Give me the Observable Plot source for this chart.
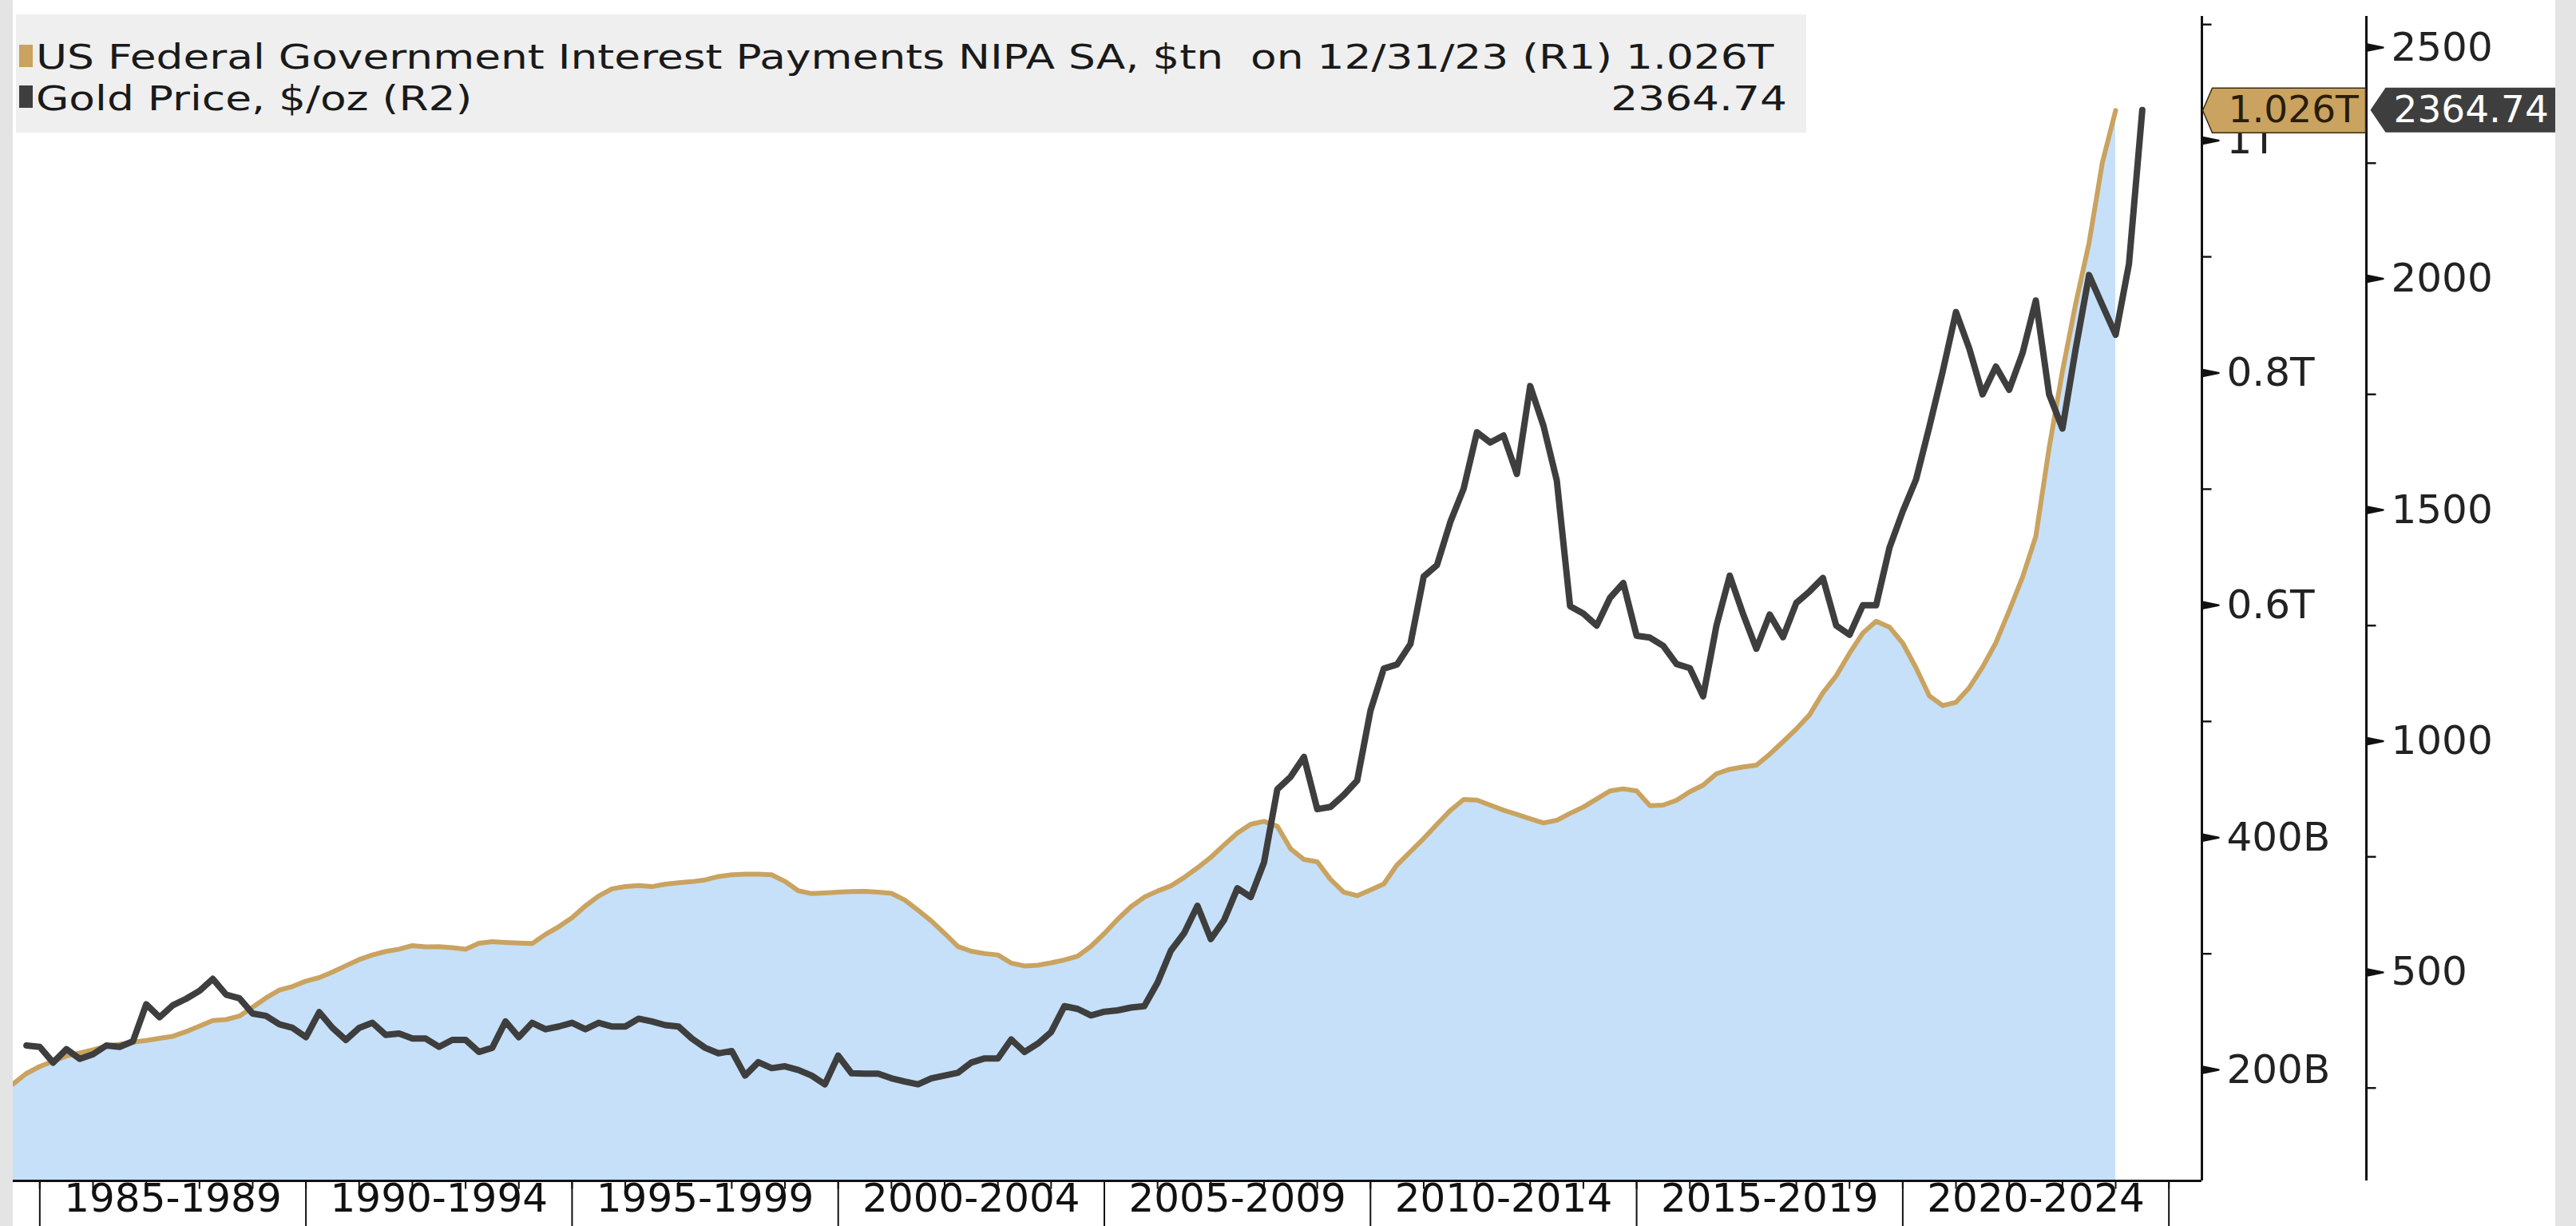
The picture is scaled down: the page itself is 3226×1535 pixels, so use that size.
<!DOCTYPE html>
<html>
<head>
<meta charset="utf-8">
<script src="https://cdn.jsdelivr.net/npm/d3@7"></script>
<script src="https://cdn.jsdelivr.net/npm/@observablehq/plot@0.6"></script>
<style>
  html, body { margin: 0; padding: 0; background: #ffffff; width: 3226px; height: 1535px; overflow: hidden; }
  #wrap { position: relative; width: 3226px; height: 1535px; }
  #chart svg { display: block; }
  .strip { position: absolute; top: 0; height: 1535px; background: #e4e4e4; }
  #overlay { position: absolute; left: 0; top: 0; }
</style>
</head>
<body>
<div id="wrap">
  <div id="chart"></div>
  <svg id="overlay" width="3226" height="1535"></svg>
  <div class="strip" style="left:0;width:16px;"></div>
  <div class="strip" style="left:3200px;width:26px;"></div>
</div>
<script>
// ---------------- DATA ----------------
// US Federal Government Interest Payments NIPA SA, $tn (quarterly, 1984 Q2 .. 2023 Q4)
const interestStart = 1984.5;
const interestTn = [
  0.188, 0.197, 0.203, 0.2075, 0.212, 0.2146, 0.2173, 0.2205, 0.2221, 0.224,
  0.2254, 0.2272, 0.229, 0.233, 0.2377, 0.2426, 0.2434, 0.2464, 0.254, 0.262,
  0.2687, 0.2719, 0.2765, 0.2795, 0.2843, 0.2897, 0.295, 0.299, 0.302, 0.304,
  0.307, 0.306, 0.3061, 0.3053, 0.3039, 0.3091, 0.3105, 0.3098, 0.3092, 0.3088,
  0.3167, 0.3233, 0.331, 0.3412, 0.3497, 0.3559, 0.3579, 0.3588, 0.3578, 0.3599,
  0.3612, 0.3621, 0.3636, 0.3665, 0.368, 0.3685, 0.3685, 0.368, 0.3623, 0.3543,
  0.3518, 0.3523, 0.353, 0.3535, 0.3537, 0.353, 0.352, 0.3463, 0.3375, 0.3282,
  0.3175, 0.3062, 0.3022, 0.3002, 0.299, 0.292, 0.2895, 0.2902, 0.2922, 0.2947,
  0.298, 0.3065, 0.3175, 0.3297, 0.3405, 0.3487, 0.354, 0.3585, 0.3657, 0.374,
  0.383, 0.3937, 0.404, 0.4115, 0.414, 0.4097, 0.3903, 0.3812, 0.3792, 0.364,
  0.353, 0.350, 0.3549, 0.3601, 0.3766, 0.3879, 0.3993, 0.4115, 0.4234, 0.4328,
  0.4323, 0.428, 0.4236, 0.42, 0.4163, 0.4126, 0.4149, 0.4209, 0.4264, 0.4333,
  0.4402, 0.442, 0.4402, 0.4275, 0.428, 0.4321, 0.4395, 0.4452, 0.455, 0.4588,
  0.4608, 0.4624, 0.4718, 0.4825, 0.4935, 0.5058, 0.5247, 0.5393, 0.5587, 0.5761,
  0.5863, 0.5812, 0.5674, 0.5461, 0.522, 0.5137, 0.5165, 0.5291, 0.5469, 0.5678,
  0.5954, 0.6242, 0.6594, 0.7356, 0.8015, 0.8599, 0.912, 0.9811, 1.026
];
// Gold Price, $/oz (quarterly, 1984 Q3 .. 2024 Q2)
const goldStart = 1984.75;
const goldUsd = [
  342, 339, 305, 334, 313, 323, 342, 339, 351, 431,
  403, 429, 443, 460, 486, 452, 444, 411, 406, 388,
  380, 360, 414, 380, 354, 380, 391, 365, 368, 357,
  357, 339, 354, 354, 328, 337, 394, 360, 391, 377,
  383, 391, 377, 391, 383, 383, 400, 394, 386, 383,
  357, 337, 325, 330, 277, 306, 293, 297, 289, 277,
  258, 320, 282, 281, 281, 271, 264, 258, 271, 277,
  283, 305, 314, 314, 355, 328, 346, 371, 427, 421,
  407, 415, 418, 424, 427, 478, 547, 585, 644, 572,
  613, 682, 663, 738, 896, 923, 966, 853, 858, 884,
  915, 1066, 1157, 1166, 1210, 1356, 1381, 1474, 1546, 1668,
  1646, 1661, 1578, 1768, 1682, 1564, 1292, 1276, 1250, 1310,
  1342, 1228, 1224, 1206, 1167, 1158, 1097, 1250, 1358, 1275,
  1200, 1274, 1225, 1299, 1324, 1353, 1250, 1230, 1294, 1294,
  1418, 1497, 1566, 1680, 1799, 1928, 1849, 1750, 1810, 1760,
  1839, 1953, 1750, 1676, 1849, 2008, 1943, 1879, 2032, 2364.74
];
// x axis categories
const periodStarts = [1985, 1990, 1995, 2000, 2005, 2010, 2015, 2020];
const periodLabels = ["1985-1989", "1990-1994", "1995-1999", "2000-2004", "2005-2009", "2010-2014", "2015-2019", "2020-2024"];
const yearTicks = d3.range(1985, 2026);
const separators = [1985, 1990, 1995, 2000, 2005, 2010, 2015, 2020, 2025];
// y axes
const r1Major = [0.2, 0.4, 0.6, 0.8, 1.0];
const r1MajorLabels = ["200B", "400B", "0.6T", "0.8T", "1T"];
const r1Minor = [0.3, 0.5, 0.7, 0.9, 1.1];
const r2Major = [500, 1000, 1500, 2000, 2500];
const r2Minor = [250, 750, 1250, 1750, 2250];
// scale domains
const xDomain = [1984.5, 2025.62];
const r1Domain = [0.1045, 1.107];
const r2Domain = [49.2, 2567.4];

// ---------------- BUILD ----------------
const interestRows = interestTn.map((v, i) => ({t: interestStart + i / 4, v}));
const goldRows = goldUsd.map((v, i) => ({t: goldStart + i / 4, v}));
const gmap = d3.scaleLinear().domain(r2Domain).range(r1Domain);

const TAN = "#c9a35f";
const DARK = "#3e3e3e";
const BLUE = "#c6e0f9";
const FONT = "DejaVu Sans";
const R2_OFFSET = 206;

const majorTick = {draw(ctx) { ctx.moveTo(0, -5.5); ctx.lineTo(22, -1); ctx.lineTo(22, 1); ctx.lineTo(0, 5.5); ctx.closePath(); }};
const minorTick = {draw(ctx) { ctx.moveTo(0, -1.2); ctx.lineTo(12, -1.2); ctx.lineTo(12, 1.2); ctx.lineTo(0, 1.2); ctx.closePath(); }};
const yearTick = {draw(ctx) { ctx.moveTo(-1, 0); ctx.lineTo(1, 0); ctx.lineTo(1, 10); ctx.lineTo(-1, 10); ctx.closePath(); }};
const sepTick = {draw(ctx) { ctx.moveTo(-1, 0); ctx.lineTo(1, 0); ctx.lineTo(1, 60); ctx.lineTo(-1, 60); ctx.closePath(); }};
const goldTag = {draw(ctx) { ctx.moveTo(1, 0); ctx.lineTo(13, -28); ctx.lineTo(205, -28); ctx.lineTo(205, 28); ctx.lineTo(13, 28); ctx.closePath(); }};
const darkTag = {draw(ctx) { ctx.moveTo(5, 0); ctx.lineTo(24, -28); ctx.lineTo(240, -28); ctx.lineTo(240, 28); ctx.lineTo(24, 28); ctx.closePath(); }};

const lastInterest = interestTn[interestTn.length - 1];
const lastGold = goldUsd[goldUsd.length - 1];

const chart = Plot.plot({
  width: 3226,
  height: 1535,
  marginLeft: 16,
  marginRight: 469,
  marginTop: 20,
  marginBottom: 57,
  x: {domain: xDomain, axis: null},
  y: {domain: r1Domain, axis: null},
  style: {background: "transparent", fontFamily: FONT, overflow: "visible"},
  marks: [
    Plot.areaY(interestRows, {x: "t", y1: r1Domain[0], y2: "v", fill: BLUE}),
    Plot.lineY(interestRows, {x: "t", y: "v", stroke: TAN, strokeWidth: 6}),
    Plot.lineY(goldRows, {x: "t", y: d => gmap(d.v), stroke: DARK, strokeWidth: 8}),
    // axis lines
    Plot.ruleY([r1Domain[0]], {stroke: "#111", strokeWidth: 3}),
    Plot.ruleX([xDomain[1]], {stroke: "#111", strokeWidth: 3}),
    Plot.ruleX([xDomain[1]], {dx: R2_OFFSET, stroke: "#111", strokeWidth: 3}),
    // R1 ticks and labels
    Plot.dot(r1Minor, {y: d => d, frameAnchor: "right", symbol: minorTick, fill: "#111"}),
    Plot.dot(r1Major, {y: d => d, frameAnchor: "right", symbol: majorTick, fill: "#111"}),
    Plot.text(r1Major, {y: d => d, frameAnchor: "right", dx: 31, textAnchor: "start", text: (d, i) => r1MajorLabels[i], fontSize: 50, fill: "#222"}),
    // R2 ticks and labels
    Plot.dot(r2Minor, {y: d => gmap(d), frameAnchor: "right", dx: R2_OFFSET, symbol: minorTick, fill: "#111"}),
    Plot.dot(r2Major, {y: d => gmap(d), frameAnchor: "right", dx: R2_OFFSET, symbol: majorTick, fill: "#111"}),
    Plot.text(r2Major, {y: d => gmap(d), frameAnchor: "right", dx: R2_OFFSET + 31, textAnchor: "start", text: d => String(d), fontSize: 50, fill: "#222"}),
    // x axis
    Plot.dot(yearTicks, {x: d => d, frameAnchor: "bottom", symbol: yearTick, fill: "#111"}),
    Plot.dot(separators, {x: d => d, frameAnchor: "bottom", symbol: sepTick, fill: "#111"}),
    Plot.text(periodStarts, {x: d => d + 2.5, frameAnchor: "bottom", dy: 38, text: (d, i) => periodLabels[i], fontSize: 50, fill: "#111"}),
    // last-value tags
    Plot.dot([lastInterest], {y: d => d, frameAnchor: "right", symbol: goldTag, fill: TAN, stroke: "#3a2a10", strokeWidth: 1.5}),
    Plot.text([lastInterest], {y: d => d, frameAnchor: "right", dx: 33, textAnchor: "start", text: d => d.toFixed(3) + "T", fontSize: 47, fill: "#2a1c05"}),
    Plot.dot([lastGold], {y: d => gmap(d), frameAnchor: "right", dx: R2_OFFSET, symbol: darkTag, fill: DARK}),
    Plot.text([lastGold], {y: d => gmap(d), frameAnchor: "right", dx: R2_OFFSET + 34, textAnchor: "start", text: d => d.toFixed(2), fontSize: 47, fill: "#ffffff"})
  ]
});
document.getElementById("chart").appendChild(chart);

// ---------------- LEGEND (overlay) ----------------
const ov = d3.select("#overlay");
ov.append("rect").attr("x", 20).attr("y", 18).attr("width", 2242).attr("height", 148).attr("fill", "#efefef");
ov.append("rect").attr("x", 24).attr("y", 56).attr("width", 17).attr("height", 28).attr("fill", TAN);
ov.append("rect").attr("x", 24).attr("y", 107).attr("width", 17).attr("height", 28).attr("fill", DARK);
const legendSize = 42;
const g1 = ov.append("g");
const t1 = g1.append("text").attr("x", 0).attr("y", 86)
  .attr("font-family", FONT).attr("font-size", legendSize).attr("fill", "#1a1a1a")
  .style("white-space", "pre")
  .text("US Federal Government Interest Payments NIPA SA, $tn  on 12/31/23 (R1) " + lastInterest.toFixed(3) + "T");
const w1 = t1.node().getComputedTextLength();
const sx = 2177 / w1;
g1.attr("transform", `translate(45,0) scale(${sx},1)`);
const g2 = ov.append("g").attr("transform", `translate(45,0) scale(${sx},1)`);
g2.append("text").attr("x", 0).attr("y", 138)
  .attr("font-family", FONT).attr("font-size", legendSize).attr("fill", "#1a1a1a")
  .text("Gold Price, $/oz (R2)");
const g3 = ov.append("g").attr("transform", `translate(2238,0) scale(${sx},1)`);
g3.append("text").attr("x", 0).attr("y", 138).attr("text-anchor", "end")
  .attr("font-family", FONT).attr("font-size", legendSize).attr("fill", "#1a1a1a")
  .text(lastGold.toFixed(2));
</script>
</body>
</html>
